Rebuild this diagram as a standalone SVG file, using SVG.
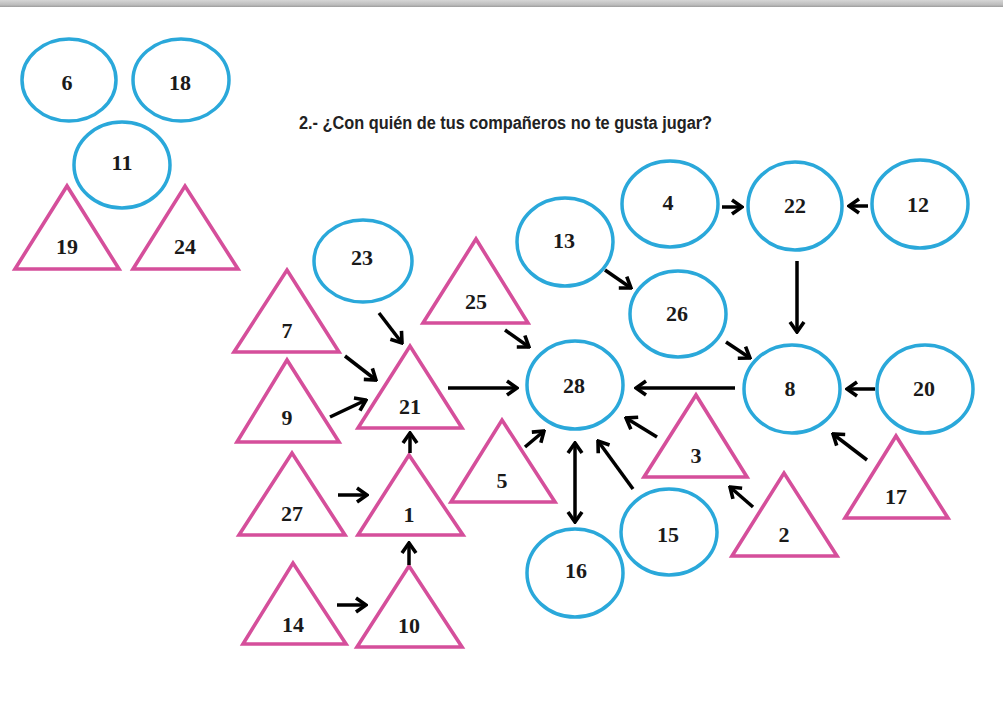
<svg xmlns="http://www.w3.org/2000/svg" width="1003" height="715" viewBox="0 0 1003 715">
<defs>
<linearGradient id="bar" x1="0" y1="0" x2="0" y2="1">
<stop offset="0" stop-color="#d6d6d6"/>
<stop offset="0.7" stop-color="#bcbcbc"/>
<stop offset="1" stop-color="#9c9c9c"/>
</linearGradient>
<marker id="ah" markerUnits="userSpaceOnUse" viewBox="-13 -9 15 18" refX="0" refY="0" markerWidth="15" markerHeight="18" orient="auto-start-reverse">
<path d="M-10,-7 L0,0 L-10,7" fill="none" stroke="#000" stroke-width="3.6" stroke-linejoin="miter" stroke-linecap="butt"/>
</marker>
<style>
.c{fill:#fff;stroke:#2aa8da;stroke-width:3.5}
.t{fill:#fff;stroke:#d54f9b;stroke-width:3.6;stroke-linejoin:miter}
.n{font-family:"Liberation Serif","Times New Roman",serif;font-weight:bold;font-size:22px;fill:#1a1a1a;text-anchor:middle}
.a{stroke:#000;stroke-width:3.5;fill:none;marker-end:url(#ah)}
.title{font-family:"Liberation Sans",Arial,sans-serif;font-weight:bold;font-size:17.5px;fill:#222}
</style>
</defs>
<rect x="0" y="0" width="1003" height="715" fill="#fff"/>
<rect x="0" y="0" width="1003" height="7" fill="url(#bar)"/>
<text class="title" x="299" y="129" textLength="413" lengthAdjust="spacingAndGlyphs">2.- ¿Con quién de tus compañeros no te gusta jugar?</text>

<g id="n6"><ellipse class="c" cx="69" cy="80" rx="47" ry="41"/><text class="n" x="67" y="90">6</text></g>
<g id="n18"><ellipse class="c" cx="181" cy="80" rx="48" ry="41"/><text class="n" x="180" y="90">18</text></g>
<g id="n11"><ellipse class="c" cx="122" cy="165" rx="48" ry="43"/><text class="n" x="122" y="170">11</text></g>
<g id="n19"><polygon class="t" points="15,269 67,186 119,269"/><text class="n" x="67" y="254">19</text></g>
<g id="n24"><polygon class="t" points="133,269 185,186 238,269"/><text class="n" x="185" y="254">24</text></g>

<g id="n23"><ellipse class="c" cx="363" cy="261" rx="49" ry="41"/><text class="n" x="362" y="265">23</text></g>
<g id="n13"><ellipse class="c" cx="565" cy="242" rx="48" ry="44"/><text class="n" x="564" y="248">13</text></g>
<g id="n4"><ellipse class="c" cx="670" cy="204" rx="48" ry="43"/><text class="n" x="668" y="210">4</text></g>
<g id="n22"><ellipse class="c" cx="795" cy="206" rx="47" ry="44"/><text class="n" x="795" y="213">22</text></g>
<g id="n12"><ellipse class="c" cx="920" cy="204" rx="48" ry="44"/><text class="n" x="918" y="212">12</text></g>
<g id="n26"><ellipse class="c" cx="678" cy="314" rx="48" ry="43"/><text class="n" x="677" y="321">26</text></g>
<g id="n28"><ellipse class="c" cx="575" cy="385" rx="48" ry="44"/><text class="n" x="574" y="393">28</text></g>
<g id="n8"><ellipse class="c" cx="792" cy="389" rx="48" ry="44"/><text class="n" x="790" y="396">8</text></g>
<g id="n20"><ellipse class="c" cx="925" cy="389" rx="48" ry="44"/><text class="n" x="924" y="396">20</text></g>
<g id="n16"><ellipse class="c" cx="575" cy="573" rx="48" ry="44"/><text class="n" x="576" y="578">16</text></g>
<g id="n15"><ellipse class="c" cx="669" cy="532" rx="48" ry="43"/><text class="n" x="668" y="542">15</text></g>

<g id="n7"><polygon class="t" points="234,352 287,270 339,352"/><text class="n" x="287" y="338">7</text></g>
<g id="n9"><polygon class="t" points="237,442 287,360 339,442"/><text class="n" x="287" y="425">9</text></g>
<g id="n21"><polygon class="t" points="358,428 410,346 462,428"/><text class="n" x="410" y="414">21</text></g>
<g id="n25"><polygon class="t" points="423,323 476,239 528,323"/><text class="n" x="476" y="309">25</text></g>
<g id="n27"><polygon class="t" points="239,535 292,453 345,535"/><text class="n" x="292" y="521">27</text></g>
<g id="n1"><polygon class="t" points="358,535 409,455 463,535"/><text class="n" x="409" y="522">1</text></g>
<g id="n14"><polygon class="t" points="243,644 293,563 346,644"/><text class="n" x="293" y="632">14</text></g>
<g id="n10"><polygon class="t" points="357,647 409,566 462,647"/><text class="n" x="409" y="633">10</text></g>
<g id="n5"><polygon class="t" points="451,502 502,420 555,502"/><text class="n" x="502" y="488">5</text></g>
<g id="n3"><polygon class="t" points="644,477 696,395 747,477"/><text class="n" x="696" y="463">3</text></g>
<g id="n2"><polygon class="t" points="732,556 784,473 837,556"/><text class="n" x="784" y="542">2</text></g>
<g id="n17"><polygon class="t" points="845,518 896,436 948,518"/><text class="n" x="896" y="504">17</text></g>

<g id="connectors">
<line class="a" x1="379" y1="313" x2="402" y2="343"/>
<line class="a" x1="345" y1="356" x2="376" y2="380"/>
<line class="a" x1="330" y1="417" x2="366" y2="400"/>
<line class="a" x1="448" y1="388" x2="517" y2="388"/>
<line class="a" x1="410" y1="453" x2="410" y2="433"/>
<line class="a" x1="338" y1="495" x2="367" y2="495"/>
<line class="a" x1="337" y1="605" x2="366" y2="605"/>
<line class="a" x1="409" y1="565" x2="409" y2="543"/>
<line class="a" x1="605" y1="270" x2="631" y2="288"/>
<line class="a" x1="505" y1="330" x2="529" y2="347"/>
<line class="a" x1="735" y1="388" x2="636" y2="388"/>
<line class="a" x1="525" y1="447" x2="544" y2="431"/>
<line class="a" x1="657" y1="437" x2="626" y2="418"/>
<line class="a" x1="575" y1="443" x2="575" y2="522" marker-start="url(#ah)"/>
<line class="a" x1="633" y1="489" x2="598" y2="441"/>
<line class="a" x1="753" y1="507" x2="730" y2="487"/>
<line class="a" x1="722" y1="207" x2="742" y2="207"/>
<line class="a" x1="868" y1="206" x2="849" y2="206"/>
<line class="a" x1="797" y1="261" x2="797" y2="332"/>
<line class="a" x1="726" y1="342" x2="750" y2="358"/>
<line class="a" x1="875" y1="389" x2="847" y2="389"/>
<line class="a" x1="867" y1="460" x2="833" y2="434"/>
</g>
</svg>
